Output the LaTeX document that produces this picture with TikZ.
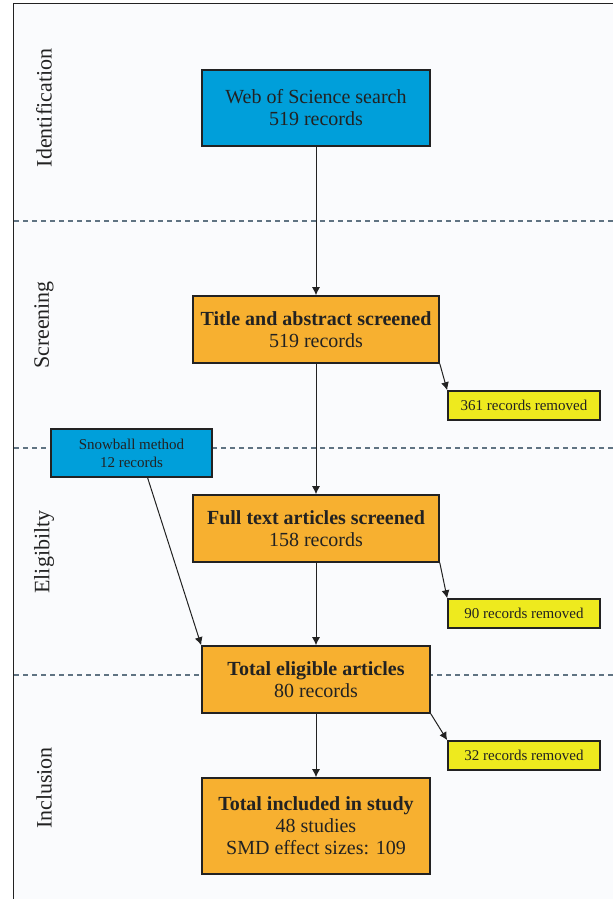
\documentclass[tikz,border=0pt]{standalone}
\usepackage{fontspec}
\setmainfont{Liberation Serif}
\usepackage{tikz}
\usetikzlibrary{arrows.meta}

\definecolor{searchblue}{RGB}{0,159,218}
\definecolor{stageorange}{RGB}{247,176,48}
\definecolor{removedyellow}{RGB}{238,234,30}
\definecolor{sepgray}{RGB}{95,115,130}
\definecolor{paper}{RGB}{250,251,253}
\definecolor{ink}{RGB}{34,34,34}

\tikzset{
  flowbox/.style={draw=ink, line width=1.6pt, text=ink, align=center, inner sep=0pt},
  searchbox/.style={flowbox, fill=searchblue, minimum width=228pt, minimum height=76pt,
    font=\fontsize{20}{22}\selectfont},
  snowbox/.style={flowbox, fill=searchblue, minimum width=161pt, minimum height=48pt,
    font=\fontsize{15}{18}\selectfont},
  stagebox/.style={flowbox, fill=stageorange, minimum height=67pt,
    font=\fontsize{20}{22}\selectfont},
  removedbox/.style={flowbox, fill=removedyellow, minimum width=152pt, minimum height=29pt,
    font=\fontsize{15}{18}\selectfont},
  phaselabel/.style={rotate=90, text=ink, font=\fontsize{22}{26}\selectfont},
  flow/.style={draw=ink, line width=1pt, -{Latex[length=8pt,width=8pt]}}
}

\begin{document}
\begin{tikzpicture}[x=1pt,y=-1pt]
\useasboundingbox (0,0) rectangle (613,899);
\fill[paper] (13,4) rectangle (613,899);
\draw[ink, line width=1pt] (613,4) -- (13,4) -- (13,899);
\foreach \y in {221,448,675}
\draw[sepgray, line width=1.8pt, dash pattern=on 5pt off 4pt] (14,\y) -- (613,\y);

% phases
\node[phaselabel] (identification) at (44,108) {Identification};
\node[phaselabel] (screening) at (44,325) {Screening};
\node[phaselabel] (eligibility) at (44,552) {Eligibilty};
\node[phaselabel] (inclusion) at (44,788) {Inclusion};

% boxes
\node[searchbox] (search) at (316,108) {Web of Science search\\519 records};
\node[stagebox, minimum width=246pt] (title) at (316,329.5) {\textbf{Title and abstract screened}\\519 records};
\node[stagebox, minimum width=246pt] (fulltext) at (316,528.5) {\textbf{Full text articles screened}\\158 records};
\node[stagebox, minimum width=228pt] (eligible) at (316,679.5) {\textbf{Total eligible articles}\\80 records};
\node[stagebox, minimum width=228pt, minimum height=96pt] (included) at (316,826) {\textbf{Total included in study}\\48 studies\\SMD effect sizes: 109};
\node[snowbox] (snowball) at (131.5,453) {Snowball method\\12 records};
\node[removedbox] (removed1) at (524,405.5) {361 records removed};
\node[removedbox] (removed2) at (524,613.5) {90 records removed};
\node[removedbox] (removed3) at (524,755.5) {32 records removed};

% arrows
\draw[flow] (search) -- (title);
\draw[flow] (title) -- (fulltext);
\draw[flow] (fulltext) -- (eligible);
\draw[flow] (eligible) -- (included);
\draw[flow] (snowball.-57) -- (eligible.north west);
\draw[flow] (title.south east) -- (removed1.north west);
\draw[flow] (fulltext.south east) -- (removed2.north west);
\draw[flow] (eligible.south east) -- (removed3.north west);
\end{tikzpicture}
\end{document}
